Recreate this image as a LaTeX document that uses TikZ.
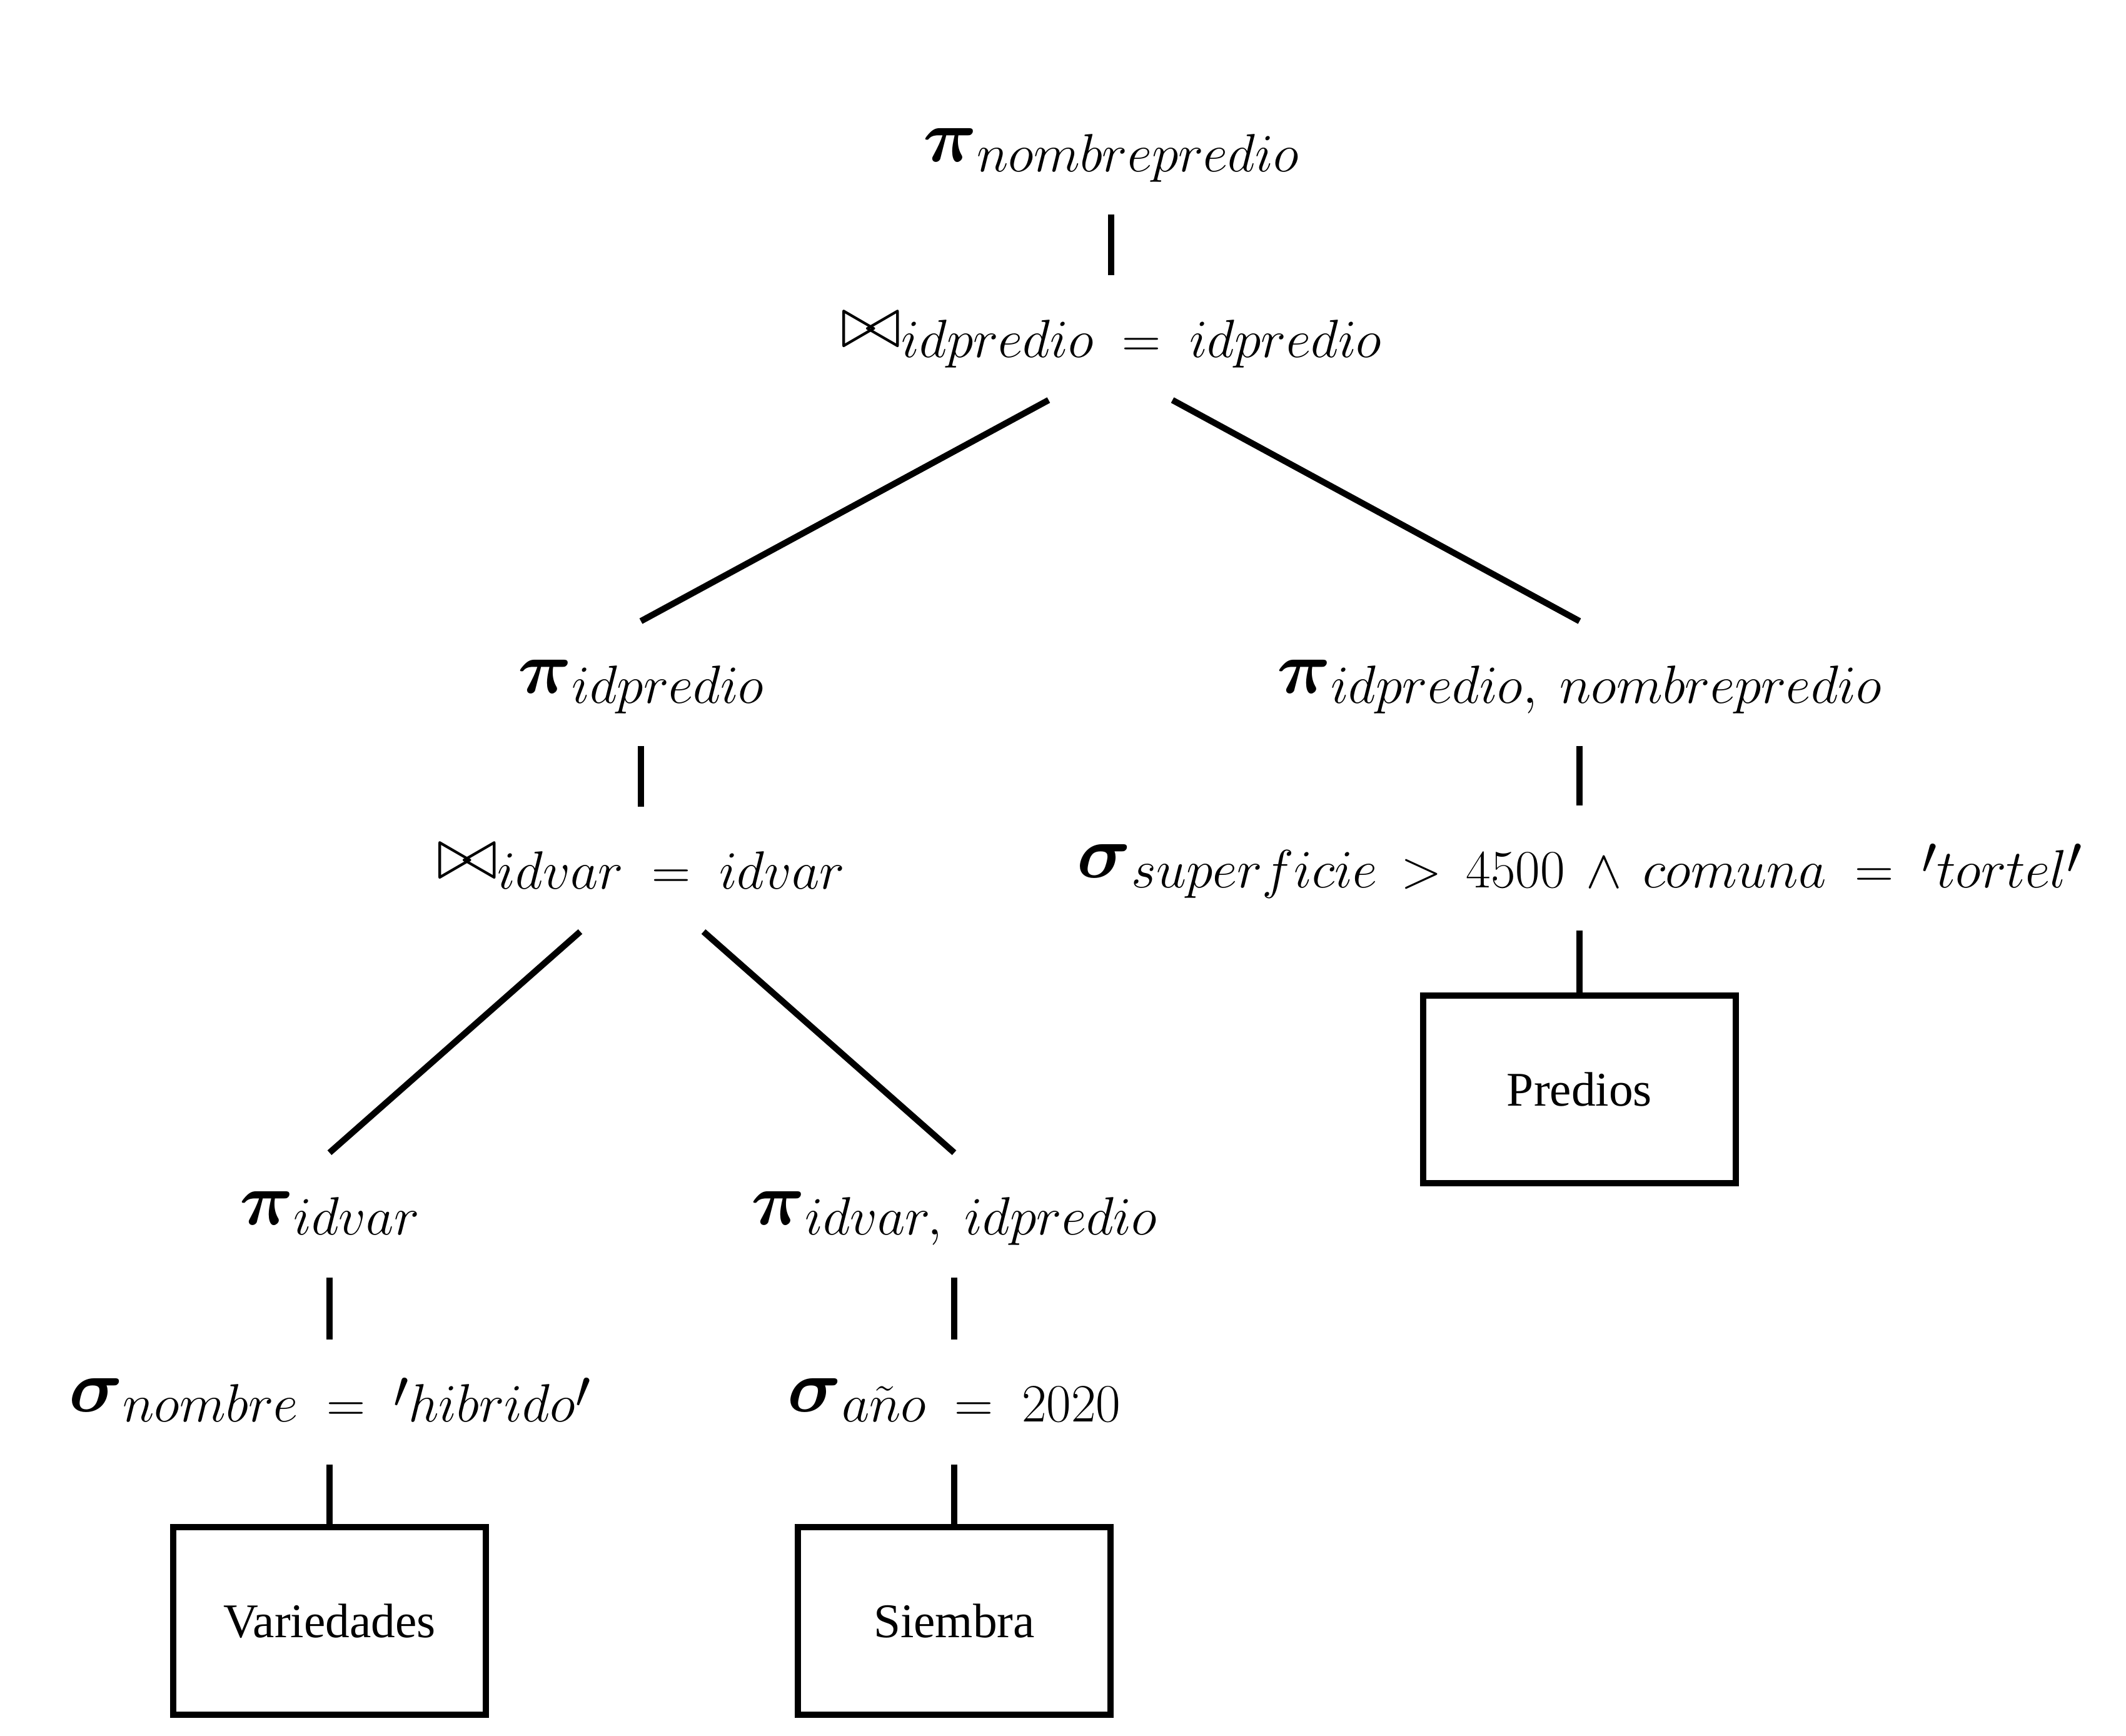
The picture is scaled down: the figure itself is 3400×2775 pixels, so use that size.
\RequirePackage{fix-cm}
\documentclass[tikz,border=0pt]{standalone}
\usepackage{amsmath}
\usepackage{bm}
\usepackage{fontspec}
\setmainfont{Liberation Serif}
\tikzset{
  lbl/.style={anchor=base, inner sep=0pt, text height=1.14cm, text depth=0.84cm, font=\fontsize{24.5}{30}\selectfont},
  rel/.style={draw, line width=0.1cm, minimum width=5cm, minimum height=3cm, inner sep=0pt, font=\fontsize{22}{26}\selectfont},
  edge/.style={line width=0.1cm}
}
\newcommand{\opsym}[2]{{\fontsize{34}{40}\selectfont$#1$}\raisebox{-4.8pt}{$#2$}}
\newcommand{\qt}{\mathord{\raisebox{6.5pt}{$\prime$}}}
\begin{document}
\begin{tikzpicture}[x=0.01cm,y=-0.01cm]
\fill[white] (0,0) rectangle (3400,2775);
\useasboundingbox (0,0) rectangle (3400,2775);
\node[lbl] (p1) at (1777,258) {\opsym{\bm{\pi}}{nombrepredio}};
\node[lbl] (j1) at (1777,555) {\opsym{\bowtie}{idpredio\ =\ idpredio}};
\node[lbl] (p2) at (1025,1108) {\opsym{\bm{\pi}}{idpredio}};
\node[lbl] (p3) at (2526,1108) {\opsym{\bm{\pi}}{idpredio,\ nombrepredio}};
\node[lbl] (j2) at (1025,1405) {\opsym{\bowtie}{idvar\ =\ idvar}};
\node[lbl] (s1) at (2526,1403) {\opsym{\bm{\sigma}}{superficie\,>\,4500\,\land\,comuna\ =\ \qt tortel\qt}};
\node[rel] (r1) at (2526,1742) {Predios};
\node[lbl] (p4) at (527,1958) {\opsym{\bm{\pi}}{idvar}};
\node[lbl] (p5) at (1526,1958) {\opsym{\bm{\pi}}{idvar,\ idpredio}};
\node[lbl] (s2) at (527,2257) {\opsym{\bm{\sigma}}{nombre\ =\ \qt hibrido\qt}};
\node[lbl] (s3) at (1526,2257) {\opsym{\bm{\sigma}}{a\tilde{n}o\ =\ 2020}};
\node[rel] (r2) at (527,2592) {Variedades};
\node[rel] (r3) at (1526,2592) {Siembra};
\draw[edge] (p1.south) -- (j1.north);
\draw[edge] ([xshift=-1cm]j1.south) -- (p2.north);
\draw[edge] ([xshift=0.98cm]j1.south) -- (p3.north);
\draw[edge] (p2.south) -- (j2.north);
\draw[edge] (p3.south) -- (s1.north);
\draw[edge] (s1.south) -- (r1.north);
\draw[edge] ([xshift=-0.97cm]j2.south) -- (p4.north);
\draw[edge] ([xshift=1cm]j2.south) -- (p5.north);
\draw[edge] (p4.south) -- (s2.north);
\draw[edge] (p5.south) -- (s3.north);
\draw[edge] (s2.south) -- (r2.north);
\draw[edge] (s3.south) -- (r3.north);
\end{tikzpicture}
\end{document}
